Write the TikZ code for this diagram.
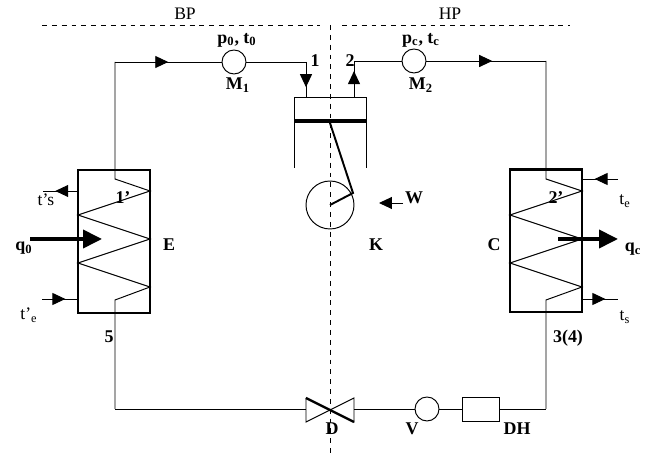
\documentclass[tikz,border=0pt]{standalone}
\usepackage{fontspec}
\setmainfont{Liberation Serif}
\usetikzlibrary{
  arrows.meta,
  decorations.markings
}
\tikzset{
  lbl/.style={inner sep=0pt, font=\fontsize{10.2}{12}\selectfont\bfseries},
  plainlbl/.style={inner sep=0pt, font=\fontsize{10}{12}\selectfont},
  pipe/.style={line width=0.55pt},
  gauge/.style={draw, circle, line width=0.55pt, minimum size=0.48cm, inner sep=0pt},
  exch/.style={draw, line width=1.15pt, minimum width=1.44cm, minimum height=2.86cm, inner sep=0pt},
  divider/.style={line width=0.55pt, dash pattern=on 2.8pt off 2.8pt},
  smalltip/.style={-{Triangle[length=0.26cm,width=0.24cm]}},
  bigtip/.style={line width=2.2pt, -{Triangle[length=0.38cm,width=0.36cm]}},
  tipat/.style={postaction={decorate, decoration={markings,
    mark=at position #1 with {\arrow{Triangle[length=0.26cm,width=0.24cm]}}}}}
}
\begin{document}
\begin{tikzpicture}[x=0.02cm, y=-0.02cm]
\useasboundingbox (0,0) rectangle (657,465);

% dashed dividers
\coordinate (topL) at (42,25);
\coordinate (topLe) at (320,25);
\coordinate (topR) at (342,25);
\coordinate (topRe) at (570,25);
\coordinate (axisT) at (330,25);
\coordinate (axisB) at (330,454);
\draw [divider] (topL) -- (topLe);
\draw [divider] (topR) -- (topRe);
\draw [divider] (axisT) -- (axisB);

% gauges and exchangers
\node [gauge] (M1) at (234,62) {};
\node [gauge] (M2) at (414,61) {};
\node [gauge] (V) at (427,409) {};
\node [draw, line width=0.55pt, minimum width=0.74cm, minimum height=0.48cm, inner sep=0pt] (DH) at (480.5,409) {};
\node [exch] (E) at (114,241.5) {};
\node [exch] (C) at (546,241) {};

% evaporator coil
\coordinate (e0) at (115,62);
\coordinate (e1) at (115,179);
\coordinate (e2) at (150,191);
\coordinate (e3) at (78,215);
\coordinate (e4) at (150,239);
\coordinate (e5) at (78,263);
\coordinate (e6) at (150,287);
\coordinate (e7) at (115,300);
\coordinate (e8) at (115,409);
\draw [pipe] (e0) -- (e1) -- (e2) -- (e3) -- (e4) -- (e5) -- (e6) -- (e7) -- (e8);

% condenser coil
\coordinate (c0) at (546,61);
\coordinate (c1) at (546,179);
\coordinate (c2) at (582,191);
\coordinate (c3) at (510,215);
\coordinate (c4) at (582,239);
\coordinate (c5) at (510,263);
\coordinate (c6) at (582,287);
\coordinate (c7) at (546,300);
\coordinate (c8) at (546,409);
\draw [pipe] (c0) -- (c1) -- (c2) -- (c3) -- (c4) -- (c5) -- (c6) -- (c7) -- (c8);

% compressor
\coordinate (cylTL) at (294,97);
\coordinate (cylTR) at (366,97);
\coordinate (cylBL) at (294,168);
\coordinate (cylBR) at (366,168);
\coordinate (barL) at (294,121);
\coordinate (barR) at (366,121);
\coordinate (inlet) at (306,97);
\coordinate (outlet) at (354,97);
\coordinate (inletT) at (306,62);
\coordinate (outletT) at (354,61);
\coordinate (rodT) at (330,123);
\coordinate (pin) at (353,193);
\coordinate (hub) at (330,205);
\draw [line width=0.55pt] (cylBL) -- (cylTL) -- (cylTR) -- (cylBR);
\draw [line width=2.8pt] (barL) -- (barR);
\draw [line width=1.1pt] (rodT) -- (pin) -- (hub);
\node [gauge, minimum size=0.96cm] (crank) at (hub) {};

% suction and discharge lines
\draw [pipe, tipat=0.5] (e0) -- (M1.west);
\draw [pipe] (M1) -- (inletT);
\draw [pipe, tipat=0.72] (inletT) -- (inlet);
\draw [pipe, tipat=0.72] (outlet) -- (outletT);
\draw [pipe] (outletT) -- (M2);
\draw [pipe, tipat=0.55] (M2.east) -- (c0);

% liquid line and valve
\coordinate (vTL) at (306,398);
\coordinate (vBL) at (306,422);
\coordinate (vTR) at (354,398);
\coordinate (vBR) at (354,422);
\draw [pipe] (e8) -- (vTL |- e8);
\draw [pipe] (vTR |- V) -- (V);
\draw [pipe] (V) -- (DH);
\draw [pipe] (DH) -- (c8);
\draw [pipe] (vTL) -- (vBL) -- (vTR) -- (vBR) -- (vTL);
\draw [line width=1.3pt] (vTL) -- (vBR);

% secondary fluid arrows
\coordinate (tsA) at (78,191);
\coordinate (tsB) at (43,191);
\coordinate (teA) at (42,299);
\coordinate (teB) at (78,299);
\coordinate (rTeA) at (618,179);
\coordinate (rTeB) at (582,179);
\coordinate (rTsA) at (582,299);
\coordinate (rTsB) at (618,299);
\coordinate (q0A) at (30,239);
\coordinate (q0B) at (102,239);
\coordinate (qcA) at (558,239);
\coordinate (qcB) at (618,239);
\coordinate (wA) at (403,203);
\coordinate (wB) at (379,203);
\draw [pipe, tipat=0.65] (tsA) -- (tsB);
\draw [pipe, tipat=0.65] (teA) -- (teB);
\draw [pipe, tipat=0.65] (rTeA) -- (rTeB);
\draw [pipe, tipat=0.65] (rTsA) -- (rTsB);
\draw [bigtip] (q0A) -- (q0B);
\draw [bigtip] (qcA) -- (qcB);
\draw [pipe, smalltip] (wA) -- (wB);

% labels
\node [plainlbl] (bp) at (185,14) {BP};
\node [plainlbl] (hp) at (450,14) {HP};
\node [lbl] (p0) at (237,40) {p\textsubscript{0}, t\textsubscript{0}};
\node [lbl] (pc) at (421,40) {p\textsubscript{c}, t\textsubscript{c}};
\node [lbl] (m1) at (238,85) {M\textsubscript{1}};
\node [lbl] (m2) at (421,85) {M\textsubscript{2}};
\node [lbl] (one) at (315,61) {1};
\node [lbl] (two) at (350,61) {2};
\node [lbl] (w) at (414,198) {W};
\node [lbl] (k) at (376,245) {K};
\node [lbl] (e) at (169,245) {E};
\node [lbl] (c) at (494,245) {C};
\node [lbl] (q0) at (24,248) {q\textsubscript{0}};
\node [lbl] (qc) at (633,249) {q\textsubscript{c}};
\node [lbl] (onep) at (123,198) {1'};
\node [lbl] (twop) at (556,198) {2'};
\node [plainlbl] (ts1) at (46,200) {t's};
\node [plainlbl] (te1) at (29,315) {t'\textsubscript{e}};
\node [plainlbl] (te2) at (625,201) {t\textsubscript{e}};
\node [plainlbl] (ts2) at (625,317) {t\textsubscript{s}};
\node [lbl] (five) at (109,337) {5};
\node [lbl] (three) at (568,338) {3(4)};
\node [lbl] (d) at (332,429) {D};
\node [lbl] (v) at (412,429) {V};
\node [lbl] (dh) at (517,429) {DH};
\end{tikzpicture}
\end{document}
